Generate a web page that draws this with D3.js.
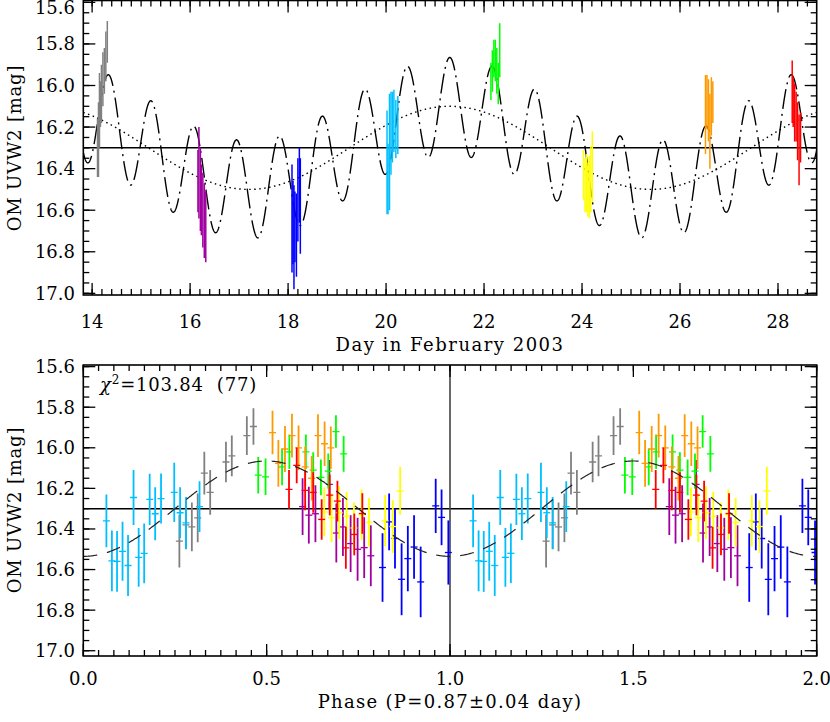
<!DOCTYPE html>
<html>
<head>
<meta charset="utf-8">
<script src="https://cdn.jsdelivr.net/npm/d3@7"></script>
<style>
  body { margin: 0; background: #fff; }
  text { font-family: "DejaVu Serif", serif; fill: #000; }
</style>
</head>
<body>
<div id="vis"></div>
<script>
// OM UVW2 light curve (top) and the same source folded on P=0.87 d (bottom)

// groups in order of observation
var groupNames = ['gray', 'purple', 'blue', 'cyan', 'green', 'yellow', 'orange', 'red'];

// top panel: [day in Feb 2003, mag, error]
var lcGray   = [[14.11,16.30,0.14],[14.13,16.26,0.18],[14.15,16.12,0.18],[14.17,16.09,0.11],[14.19,16.04,0.14],[14.22,15.97,0.13],[14.25,15.93,0.11],[14.28,15.86,0.12],[14.31,15.79,0.10]];
var lcPurple = [[16.16,16.46,0.15],[16.18,16.42,0.22],[16.21,16.50,0.20],[16.23,16.55,0.17],[16.26,16.60,0.18],[16.29,16.65,0.18],[16.32,16.68,0.17]];
var lcBlue   = [[18.08,16.64,0.26],[18.10,16.66,0.20],[18.12,16.73,0.25],[18.14,16.68,0.17],[18.17,16.72,0.20],[18.20,16.55,0.20],[18.23,16.48,0.18],[18.25,16.58,0.23]];
var lcCyan   = [[20.02,16.37,0.25],[20.04,16.45,0.17],[20.07,16.32,0.28],[20.10,16.23,0.20],[20.13,16.20,0.17],[20.16,16.17,0.15],[20.20,16.21,0.14],[20.24,16.19,0.14]];
var lcGreen  = [[22.14,15.98,0.09],[22.17,15.93,0.10],[22.20,15.87,0.09],[22.23,15.88,0.10],[22.26,15.93,0.11],[22.29,15.99,0.10],[22.32,15.83,0.13]];
var lcYellow = [[24.03,16.43,0.12],[24.06,16.48,0.13],[24.09,16.47,0.14],[24.12,16.50,0.13],[24.15,16.49,0.15],[24.18,16.45,0.16],[24.21,16.39,0.17]];
var lcOrange = [[26.52,16.14,0.19],[26.55,16.08,0.13],[26.58,16.12,0.15],[26.61,16.22,0.18],[26.64,16.10,0.14],[26.67,16.08,0.10]];
var lcRed    = [[28.29,16.03,0.15],[28.31,16.08,0.12],[28.34,16.13,0.14],[28.37,16.15,0.12],[28.40,16.22,0.14],[28.43,16.31,0.17],[28.46,16.25,0.12]];

// bottom panel: [phase, mag, error]
var phGray   = [[0.262,16.46,0.13],[0.280,16.38,0.12],[0.296,16.39,0.12],[0.312,16.345,0.12],[0.330,16.125,0.105],[0.346,16.22,0.11],[0.389,16.07,0.10],[0.405,16.04,0.10],[0.446,15.94,0.095],[0.464,15.895,0.09]];
var phPurple = [[0.598,16.29,0.14],[0.615,16.332,0.14],[0.633,16.325,0.14],[0.671,16.18,0.12],[0.690,16.42,0.145],[0.708,16.39,0.143],[0.729,16.472,0.14],[0.748,16.50,0.155],[0.766,16.492,0.15],[0.784,16.532,0.15]];
var phBlue   = [[0.816,16.59,0.169],[0.834,16.365,0.14],[0.850,16.447,0.148],[0.868,16.648,0.177],[0.885,16.546,0.161],[0.902,16.489,0.156],[0.920,16.661,0.174],[0.961,16.286,0.134],[0.977,16.343,0.137],[0.9955,16.516,0.158]];
var phCyan   = [[0.063,16.36,0.13],[0.078,16.557,0.15],[0.092,16.56,0.15],[0.107,16.51,0.145],[0.122,16.58,0.15],[0.137,16.245,0.135],[0.151,16.54,0.145],[0.166,16.52,0.147],[0.181,16.254,0.126],[0.196,16.325,0.13],[0.212,16.25,0.123],[0.248,16.22,0.146],[0.264,16.32,0.125],[0.280,16.37,0.128],[0.317,16.29,0.125]];
var phGreen  = [[0.477,16.135,0.09],[0.497,16.143,0.09],[0.542,16.094,0.09],[0.562,16.02,0.085],[0.607,16.02,0.085],[0.627,16.11,0.088],[0.648,16.146,0.088],[0.668,16.115,0.087],[0.689,15.92,0.08],[0.710,16.03,0.088]];
var phYellow = [[0.657,16.316,0.12],[0.677,16.345,0.12],[0.698,16.32,0.13],[0.718,16.337,0.12],[0.738,16.395,0.125],[0.759,16.33,0.125],[0.779,16.367,0.12],[0.823,16.36,0.127],[0.844,16.388,0.13],[0.864,16.212,0.118]];
var phOrange = [[0.516,15.925,0.107],[0.532,16.077,0.115],[0.550,16.006,0.113],[0.569,15.94,0.108],[0.587,16.0,0.11],[0.605,16.094,0.10],[0.623,16.15,0.11],[0.640,15.94,0.105],[0.658,15.98,0.11],[0.675,16.0,0.105]];
var phRed    = [[0.561,16.205,0.095],[0.582,16.087,0.088],[0.605,16.21,0.098],[0.627,16.22,0.10],[0.650,16.353,0.10],[0.672,16.233,0.10],[0.693,16.263,0.10],[0.716,16.493,0.103],[0.739,16.427,0.103],[0.761,16.324,0.10]];

var lcData = [lcGray, lcPurple, lcBlue, lcCyan, lcGreen, lcYellow, lcOrange, lcRed];
var phData = [phGray, phPurple, phBlue, phCyan, phGreen, phYellow, phOrange, phRed];

// fitted model: sinusoid on P plus a slow trend (top panel only)
var period = 0.87, epoch = 13.905, amp = 0.235, meanMag = 16.3;
var trendAmp = 0.2, trendPeriod = 8.2, trendPeak = 21.3;

var dayTicks = [14, 16, 18, 20, 22, 24, 26, 28];
var phaseTicks = [0.0, 0.5, 1.0, 1.5, 2.0];
var magTicks = [15.6, 15.8, 16.0, 16.2, 16.4, 16.6, 16.8, 17.0];

var colors = {gray: '#808080', purple: '#a000a0', blue: '#0000ff', cyan: '#00bfff',
              green: '#00ff00', yellow: '#ffff00', orange: '#ff9900', red: '#ff0000'};

var W = 830, H = 722;
var svg = d3.select('#vis').append('svg')
  .attr('width', W)
  .attr('height', H);

var L = 83.3, R = 816.7;

var x1 = d3.scaleLinear().domain([13.82, 28.79]).range([L, R]);
var y1 = d3.scaleLinear().domain([15.591, 17.008]).range([0.5, 295]);
var x2 = d3.scaleLinear().domain([0, 2]).range([L, R]);
var y2 = d3.scaleLinear().domain([15.592, 17.026]).range([365, 656]);

function clip(id, x, y) {
  svg.append('clipPath').attr('id', id).append('rect')
    .attr('x', x.range()[0]).attr('y', y.range()[0])
    .attr('width', x.range()[1] - x.range()[0])
    .attr('height', y.range()[1] - y.range()[0]);
}
clip('c1', x1, y1);
clip('c2', x2, y2);

// box with inward ticks on all four sides
function frame(x, y, xMajor, xMinor, yMinor) {
  var g = svg.append('g');
  var x0 = x.range()[0], xe = x.range()[1], y0 = y.range()[0], ye = y.range()[1];
  function ticks(vals, len, axis) {
    vals.forEach(function(v) {
      if (axis == 'x') {
        var px = x(v);
        if (px < x0 - 0.1 || px > xe + 0.1) return;
        g.append('line').attr('x1', px).attr('x2', px).attr('y1', ye).attr('y2', ye - len);
        g.append('line').attr('x1', px).attr('x2', px).attr('y1', y0).attr('y2', y0 + len);
      } else {
        var py = y(v);
        if (py < y0 - 0.1 || py > ye + 0.1) return;
        g.append('line').attr('x1', x0).attr('x2', x0 + len).attr('y1', py).attr('y2', py);
        g.append('line').attr('x1', xe).attr('x2', xe - len).attr('y1', py).attr('y2', py);
      }
    });
  }
  ticks(xMinor, 6, 'x');
  ticks(xMajor, 12, 'x');
  ticks(yMinor, 6, 'y');
  ticks(magTicks, 12, 'y');
  g.selectAll('line').attr('stroke', '#000').attr('stroke-width', 1.3);
  g.append('rect')
    .attr('x', x0).attr('y', y0)
    .attr('width', xe - x0).attr('height', ye - y0)
    .attr('fill', 'none').attr('stroke', '#000').attr('stroke-width', 1.6);

  // y tick labels (the top one is kept inside the page)
  g.selectAll('text.ylab').data(magTicks).enter().append('text')
    .attr('x', 75).attr('y', function(d) { return Math.max(y(d), 7.5); })
    .attr('dy', '0.36em')
    .attr('text-anchor', 'end')
    .style('font-size', '18px')
    .text(function(d) { return d.toFixed(1); });
  return g;
}

var magMinor = d3.range(310, 342).map(function(i) { return i * 0.05; });

// ---------- top panel ----------
var trend = function(t) { return meanMag - trendAmp * Math.cos(2 * Math.PI * (t - trendPeak) / trendPeriod); };
var model = function(t) { return trend(t) + amp * Math.cos(2 * Math.PI * (t - epoch) / period); };
var days = d3.range(13.82, 28.80, 0.005);

var topG = svg.append('g').attr('clip-path', 'url(#c1)');
var line1 = d3.line().x(function(d) { return x1(d[0]); }).y(function(d) { return y1(d[1]); });

topG.append('path')
  .attr('d', line1(days.map(function(t) { return [t, trend(t)]; })))
  .attr('fill', 'none').attr('stroke', '#000').attr('stroke-width', 1.4)
  .attr('stroke-dasharray', '1.5 3.5');
topG.append('path')
  .attr('d', line1(days.map(function(t) { return [t, model(t)]; })))
  .attr('fill', 'none').attr('stroke', '#000').attr('stroke-width', 1.4)
  .attr('stroke-dasharray', '20 5 2 5');
topG.append('line')
  .attr('x1', L).attr('x2', R).attr('y1', y1(meanMag)).attr('y2', y1(meanMag))
  .attr('stroke', '#000').attr('stroke-width', 1.5);

lcData.forEach(function(pts, i) {
  topG.append('g').selectAll('line').data(pts).enter().append('line')
    .attr('x1', function(d) { return x1(d[0]); })
    .attr('x2', function(d) { return x1(d[0]); })
    .attr('y1', function(d) { return y1(d[1] - d[2]); })
    .attr('y2', function(d) { return y1(d[1] + d[2]); })
    .attr('stroke', colors[groupNames[i]])
    .attr('stroke-width', 1.5);
});

var xMinor1 = d3.range(69, 145).map(function(i) { return i * 0.2; });
frame(x1, y1, dayTicks, xMinor1, magMinor);

svg.selectAll('text.dlab').data(dayTicks).enter().append('text')
  .attr('x', function(d) { return x1(d); })
  .attr('y', 328)
  .attr('text-anchor', 'middle')
  .style('font-size', '18px')
  .text(function(d) { return d; });

svg.append('text')
  .attr('x', 450).attr('y', 351)
  .attr('text-anchor', 'middle')
  .style('font-size', '18px')
  .style('letter-spacing', '1.5px')
  .text('Day in February 2003');

// ---------- bottom panel ----------
var botG = svg.append('g').attr('clip-path', 'url(#c2)');

botG.append('line')
  .attr('x1', L).attr('x2', R).attr('y1', y2(meanMag)).attr('y2', y2(meanMag))
  .attr('stroke', '#000').attr('stroke-width', 1.5);
botG.append('line')
  .attr('x1', x2(1)).attr('x2', x2(1)).attr('y1', y2.range()[0]).attr('y2', y2.range()[1])
  .attr('stroke', '#444').attr('stroke-width', 1.6);

// each point shown at phase and phase + 1
phData.forEach(function(pts, i) {
  var both = pts.map(function(d) { return d; })
    .concat(pts.map(function(d) { return [d[0] + 1, d[1], d[2]]; }));
  var g = botG.append('g').attr('stroke', colors[groupNames[i]]);
  g.selectAll('line.bar').data(both).enter().append('line')
    .attr('class', 'bar')
    .attr('x1', function(d) { return x2(d[0]); })
    .attr('x2', function(d) { return x2(d[0]); })
    .attr('y1', function(d) { return y2(d[1] - d[2]); })
    .attr('y2', function(d) { return y2(d[1] + d[2]); })
    .attr('stroke-width', 1.8);
  g.selectAll('line.tick').data(both).enter().append('line')
    .attr('class', 'tick')
    .attr('x1', function(d) { return x2(d[0]) - 3.5; })
    .attr('x2', function(d) { return x2(d[0]) + 3.5; })
    .attr('y1', function(d) { return y2(d[1]); })
    .attr('y2', function(d) { return y2(d[1]); })
    .attr('stroke-width', 1.3);
});

var phases = d3.range(0, 2.0005, 0.002);
var line2 = d3.line().x(function(d) { return x2(d); })
  .y(function(d) { return y2(meanMag + amp * Math.cos(2 * Math.PI * d)); });
botG.append('path')
  .attr('d', line2(phases))
  .attr('fill', 'none').attr('stroke', '#222').attr('stroke-width', 1.2)
  .attr('stroke-dasharray', '14 10');

var xMinor2 = d3.range(0, 49).map(function(i) { return i / 24; });
frame(x2, y2, phaseTicks, xMinor2, magMinor);

svg.selectAll('text.plab').data(phaseTicks).enter().append('text')
  .attr('x', function(d) { return x2(d); })
  .attr('y', 685)
  .attr('text-anchor', 'middle')
  .style('font-size', '18px')
  .text(function(d) { return d.toFixed(1); });

svg.append('text')
  .attr('x', 450).attr('y', 708)
  .attr('text-anchor', 'middle')
  .style('font-size', '18px')
  .style('letter-spacing', '1.3px')
  .text('Phase (P=0.87\u00b10.04 day)');

var chi = svg.append('text')
  .attr('x', 100).attr('y', 391)
  .style('font-size', '18px')
  .style('letter-spacing', '0.8px');
chi.append('tspan').style('font-style', 'italic').text('\u03c7');
chi.append('tspan').attr('dy', -7).style('font-size', '12px').text('2');
chi.append('tspan').attr('dy', 7).text('=103.84\u00a0 (77)');

// y axis titles
[148, 510].forEach(function(cy) {
  svg.append('text')
    .attr('transform', 'translate(21,' + cy + ') rotate(-90)')
    .attr('text-anchor', 'middle')
    .style('font-size', '18px')
    .style('letter-spacing', '0.8px')
    .text('OM UVW2 [mag]');
});
</script>
</body>
</html>
